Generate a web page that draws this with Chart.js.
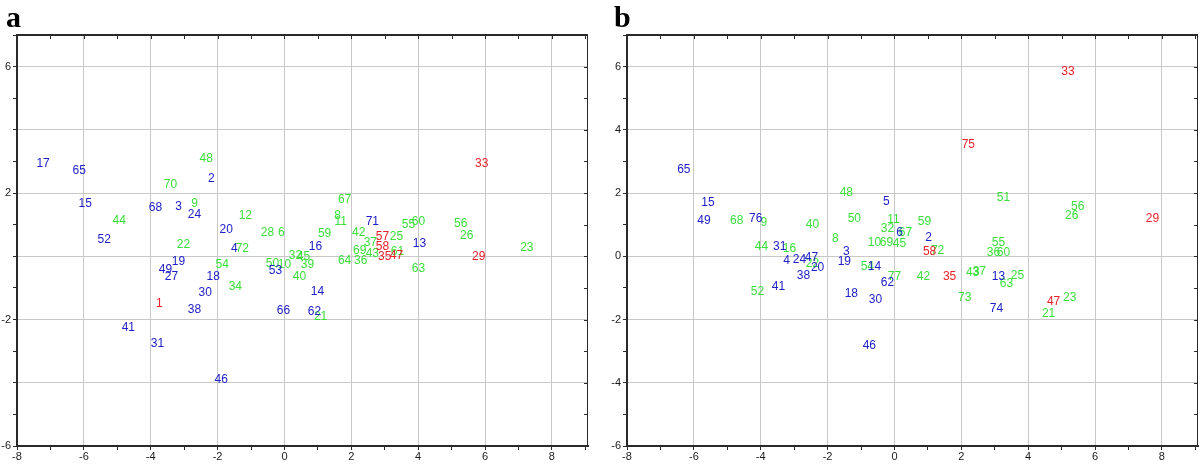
<!DOCTYPE html>
<html>
<head>
<meta charset="utf-8">
<script src="https://cdn.jsdelivr.net/npm/chart.js@4.4.0/dist/chart.umd.min.js"></script>
<style>
  html, body { margin: 0; padding: 0; background: #fff; }
  .wrap { display: flex; width: 1200px; height: 467px; }
  .panel { position: relative; width: 600px; height: 467px; }
</style>
</head>
<body>
<div class="wrap">
  <div class="panel"><canvas id="chart-a"></canvas></div>
  <div class="panel"><canvas id="chart-b"></canvas></div>
</div>
<script>
// panel a
const aNums = [17, 65, 15, 44, 52, 48, 70, 2, 68, 3, 9, 24, 12, 20, 22, 4, 72, 19, 49, 27, 54, 18, 34, 30, 1, 38, 41, 31, 46,
  67, 8, 11, 59, 28, 6, 16, 32, 45, 39, 50, 10, 53, 40, 14, 66, 62, 21, 64, 36, 69, 37, 43, 71, 42, 57, 58, 35, 25, 61, 47,
  55, 60, 13, 63, 56, 26, 29, 23, 33];
const aX = [-7.22, -6.14, -5.96, -4.94, -5.39, -2.34, -3.41, -2.19, -3.86, -3.17, -2.69, -2.69, -1.17, -1.74, -3.02, -1.50, -1.26, -3.17, -3.56, -3.38, -1.86, -2.13, -1.47, -2.37, -3.74, -2.69, -4.67, -3.80, -1.89,
  1.80, 1.59, 1.68, 1.20, -0.51, -0.09, 0.93, 0.33, 0.57, 0.69, -0.36, 0.00, -0.27, 0.45, 0.99, -0.03, 0.90, 1.08, 1.80, 2.28, 2.25, 2.57, 2.63, 2.63, 2.22, 2.93, 2.93, 3.00, 3.35, 3.38, 3.35,
  3.71, 4.01, 4.04, 4.01, 5.27, 5.45, 5.81, 7.25, 5.90];
const aY = [2.94, 2.72, 1.68, 1.14, 0.51, 3.10, 2.28, 2.44, 1.55, 1.58, 1.68, 1.33, 1.30, 0.85, 0.38, 0.25, 0.25, -0.16, -0.41, -0.63, -0.28, -0.66, -0.95, -1.14, -1.49, -1.68, -2.25, -2.75, -3.89,
  1.80, 1.30, 1.11, 0.73, 0.76, 0.76, 0.32, 0.03, 0.00, -0.28, -0.22, -0.25, -0.47, -0.63, -1.11, -1.71, -1.74, -1.90, -0.13, -0.13, 0.19, 0.44, 0.09, 1.11, 0.76, 0.63, 0.32, 0.00, 0.63, 0.16, 0.03,
  1.01, 1.08, 0.41, -0.38, 1.04, 0.66, 0.00, 0.28, 2.94];
const aGroups = ['B', 'B', 'B', 'G', 'B', 'G', 'G', 'B', 'B', 'B', 'G', 'B', 'G', 'B', 'G', 'B', 'G', 'B', 'B', 'B', 'G', 'B', 'G', 'B', 'R', 'B', 'B', 'B', 'B',
  'G', 'G', 'G', 'G', 'G', 'G', 'B', 'G', 'G', 'G', 'G', 'G', 'B', 'G', 'B', 'B', 'B', 'G', 'G', 'G', 'G', 'G', 'G', 'B', 'G', 'R', 'R', 'R', 'G', 'G', 'R',
  'G', 'G', 'B', 'G', 'G', 'G', 'R', 'G', 'R'];

// panel b
const bNums = [65, 15, 49, 68, 76, 9, 40, 44, 31, 16, 4, 24, 47, 22, 20, 38, 41, 52, 8, 48,
  5, 50, 11, 32, 6, 67, 59, 2, 10, 69, 45, 3, 19, 54, 14, 77, 62, 42, 18, 30,
  58, 72, 35, 73, 43, 37, 13, 25, 63, 74, 55, 36, 60, 51, 56, 26, 29, 47, 23, 21, 46, 33, 75];
const bX = [-6.30, -5.58, -5.70, -4.72, -4.15, -3.91, -2.45, -3.98, -3.43, -3.14, -3.23, -2.84, -2.48, -2.45, -2.30, -2.72, -3.47, -4.10, -1.77, -1.44,
  -0.24, -1.20, -0.03, -0.21, 0.15, 0.33, 0.90, 1.02, -0.60, -0.24, 0.15, -1.44, -1.50, -0.81, -0.60, 0.00, -0.21, 0.87, -1.29, -0.57,
  1.05, 1.29, 1.65, 2.10, 2.34, 2.54, 3.11, 3.68, 3.35, 3.05, 3.11, 2.96, 3.26, 3.26, 5.48, 5.30, 7.72, 4.76, 5.24, 4.61, -0.75, 5.19, 2.21];
const bY = [2.73, 1.71, 1.14, 1.14, 1.20, 1.05, 1.01, 0.29, 0.29, 0.25, -0.13, -0.10, -0.03, -0.22, -0.35, -0.60, -0.95, -1.11, 0.57, 2.00,
  1.74, 1.20, 1.17, 0.86, 0.76, 0.76, 1.08, 0.60, 0.44, 0.44, 0.41, 0.16, -0.16, -0.32, -0.32, -0.63, -0.82, -0.63, -1.17, -1.36,
  0.16, 0.19, -0.63, -1.30, -0.51, -0.48, -0.63, -0.60, -0.86, -1.65, 0.44, 0.10, 0.13, 1.84, 1.58, 1.30, 1.20, -1.43, -1.30, -1.81, -2.82, 5.83, 3.52];
const bGroups = ['B', 'B', 'B', 'G', 'B', 'G', 'G', 'G', 'B', 'G', 'B', 'B', 'B', 'G', 'B', 'B', 'B', 'G', 'G', 'G',
  'B', 'G', 'G', 'G', 'B', 'G', 'G', 'B', 'G', 'G', 'G', 'B', 'B', 'G', 'B', 'G', 'B', 'G', 'B', 'B',
  'R', 'G', 'R', 'G', 'G', 'G', 'B', 'G', 'G', 'B', 'G', 'G', 'G', 'G', 'G', 'G', 'R', 'R', 'G', 'G', 'B', 'R', 'R'];

const groupColors = { G: '#3ade3a', B: '#2020c8', R: '#e8202a' };

function buildDatasets(nums, xs, ys, groups) {
  return ['G', 'B', 'R'].map((g) => ({
    label: g,
    data: nums.map((n, i) => ({ x: xs[i], y: ys[i], n: n, g: groups[i] })).filter((p) => p.g === g),
    pointRadius: 0,
    pointHoverRadius: 0,
    textColor: groupColors[g],
  }));
}

// draws the case numbers at the point positions
const pointLabels = {
  id: "pointLabels",
  afterDatasetsDraw(chart) {
    const ctx = chart.ctx;
    ctx.save();
    ctx.font = '12px "Liberation Sans", Arial, sans-serif';
    ctx.textAlign = "center";
    ctx.textBaseline = "middle";
    chart.data.datasets.forEach((ds, di) => {
      const meta = chart.getDatasetMeta(di);
      ctx.fillStyle = ds.textColor;
      meta.data.forEach((el, i) => {
        ctx.fillText(String(ds.data[i].n), el.x, el.y);
      });
    });
    ctx.restore();
  },
};

// top/right frame with inward ticks, plus the panel letter
function makeFrame(letter, letterX) {
  return {
    id: "frame",
    afterDraw(chart) {
      const { ctx, chartArea: a, scales } = chart;
      ctx.save();
      ctx.strokeStyle = "#2a2a2a";
      ctx.lineWidth = 2;
      ctx.beginPath();
      ctx.moveTo(a.left, a.top);
      ctx.lineTo(a.right, a.top);
      ctx.stroke();
      ctx.lineWidth = 1;
      ctx.beginPath();
      ctx.moveTo(a.right - 0.5, a.top);
      ctx.lineTo(a.right - 0.5, a.bottom);
      scales.x.ticks.forEach((t) => {
        const px = Math.round(scales.x.getPixelForValue(t.value)) + 0.5;
        ctx.moveTo(px, a.top);
        ctx.lineTo(px, a.top + 4);
      });
      scales.y.ticks.forEach((t) => {
        const py = Math.round(scales.y.getPixelForValue(t.value)) + 0.5;
        ctx.moveTo(a.right, py);
        ctx.lineTo(a.right - 4, py);
      });
      ctx.stroke();
      ctx.fillStyle = "#000";
      ctx.font = 'bold 30px "Liberation Serif", "Times New Roman", serif';
      ctx.textAlign = "left";
      ctx.textBaseline = "alphabetic";
      ctx.fillText(letter, letterX, 27);
      ctx.restore();
    },
  };
}

function makeChart(canvasId, letter, nums, xs, ys, groups, yLabelVals, yAxisWidth, padRight, letterX) {
  const ctx = document.getElementById(canvasId).getContext("2d");
  return new Chart(ctx, {
    type: "scatter",
    data: { datasets: buildDatasets(nums, xs, ys, groups) },
    options: {
      responsive: true,
      maintainAspectRatio: false,
      animation: false,
      layout: { padding: { top: 35, right: padRight, left: 0, bottom: 0 } },
      plugins: { legend: { display: false }, tooltip: { enabled: false } },
      scales: {
        x: {
          type: "linear",
          min: -8,
          max: 9.08,
          afterFit: (scale) => { scale.height = 21; },
          border: { color: "#2a2a2a", width: 2 },
          grid: {
            color: (c) => (c.tick && c.tick.value % 2 === 0 && c.tick.value > -8 ? "#c8c8c8" : "rgba(0,0,0,0)"),
            tickColor: "#2a2a2a",
            tickLength: 4,
          },
          ticks: {
            stepSize: 1,
            includeBounds: false,
            padding: 0,
            color: "#1a1a1a",
            font: { family: '"Liberation Sans", Arial, sans-serif', size: 11 },
            callback: (v) => (v % 2 === 0 ? String(v) : ""),
            maxRotation: 0,
            autoSkip: false,
          },
        },
        y: {
          type: "linear",
          min: -6,
          max: 7,
          afterFit: (scale) => { scale.width = yAxisWidth; },
          border: { color: "#2a2a2a", width: 2 },
          grid: {
            color: (c) => (c.tick && c.tick.value % 2 === 0 && c.tick.value > -6 ? "#c8c8c8" : "rgba(0,0,0,0)"),
            tickColor: "#2a2a2a",
            tickLength: 4,
          },
          ticks: {
            stepSize: 1,
            includeBounds: false,
            padding: 2,
            color: "#1a1a1a",
            font: { family: '"Liberation Sans", Arial, sans-serif', size: 11 },
            callback: (v) => (yLabelVals.includes(v) ? String(v) : ""),
            autoSkip: false,
          },
        },
      },
    },
    plugins: [pointLabels, makeFrame(letter, letterX)],
  });
}

const aYLabels = [-6, -2, 2, 6];
const bYLabels = [-6, -4, -2, 0, 2, 4, 6];

makeChart("chart-a", "a", aNums, aX, aY, aGroups, aYLabels, 17, 12, 6);
makeChart("chart-b", "b", bNums, bX, bY, bGroups, bYLabels, 27, 2, 14);
</script>
</body>
</html>
